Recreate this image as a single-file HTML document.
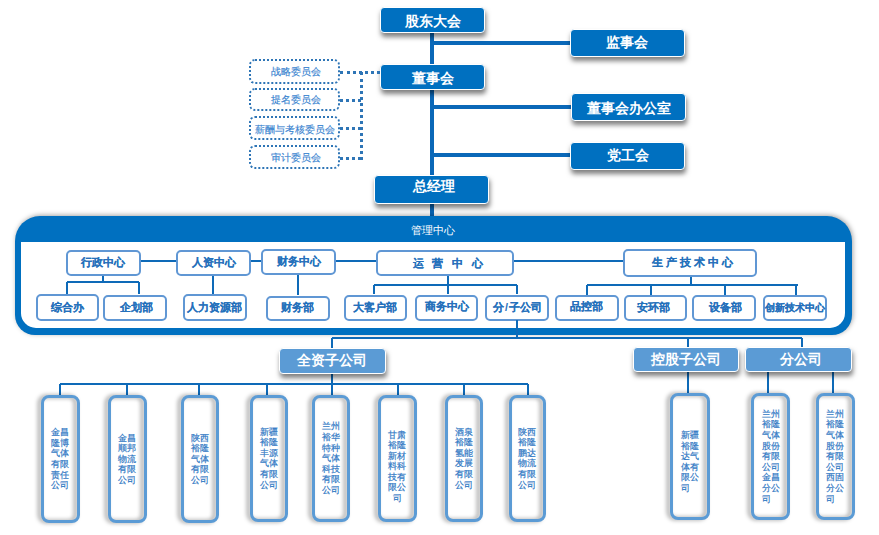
<!DOCTYPE html><html><head><meta charset="utf-8"><style>
html,body{margin:0;padding:0;background:#fff;width:879px;height:535px;overflow:hidden}
body{position:relative;font-family:"Liberation Sans",sans-serif}
div{position:absolute;box-sizing:border-box}
.db{color:#fff;font-weight:bold;text-align:center;border:1.5px solid #fff;border-radius:4px;box-shadow:1px 4px 5px rgba(0,0,0,0.5);white-space:nowrap}
.ln{}
.cb{border:2.5px dotted #2e75b6;border-radius:6px;color:#3a84d0;-webkit-text-stroke:0.15px #3a84d0;font-size:10px;padding-left:2px;text-align:center;white-space:nowrap;background:#fff}
.pb{border:2px solid #6097d4;border-radius:5px;background:#fff;color:#2470bb;font-weight:bold;-webkit-text-stroke:0.1px #2470bb;text-align:center;white-space:nowrap}
.kb{border:3px solid #5b9bd5;border-radius:8px;filter:drop-shadow(-2.5px 0.5px 2px rgba(0,0,0,0.4))}
.kt{color:#3078c4;font-size:9.2px;line-height:10.6px;text-align:center;-webkit-text-stroke:0.2px #3078c4}
</style></head><body>

<div class="ln" style="left:430.3px;top:32px;width:4px;height:184px;background:#0a68b8"></div>
<div class="ln" style="left:432.3px;top:40.75px;width:138.7px;height:4.5px;background:#0a68b8"></div>
<div class="ln" style="left:432.3px;top:104.65px;width:138.7px;height:4.5px;background:#0a68b8"></div>
<div class="ln" style="left:432.3px;top:152.75px;width:138.7px;height:4.5px;background:#0a68b8"></div>
<div class="db" style="left:380px;top:7px;width:105px;height:26px;background:#0070c0;font-size:13.5px;line-height:27.5px;letter-spacing:0px;padding-left:0px;padding-right:0px">股东大会</div>
<div class="db" style="left:380px;top:64px;width:105px;height:26px;background:#0070c0;font-size:13.5px;line-height:27.5px;letter-spacing:0px;padding-left:0px;padding-right:0px">董事会</div>
<div class="db" style="left:374px;top:175px;width:115px;height:29px;background:#0070c0;font-size:13.5px;line-height:22.5px;letter-spacing:0px;padding-left:5.0px;padding-right:0px">总经理</div>
<div class="db" style="left:570px;top:28.5px;width:115px;height:28.0px;background:#0070c0;font-size:13.5px;line-height:25.1px;letter-spacing:0px;padding-left:0px;padding-right:1.0px">监事会</div>
<div class="db" style="left:571px;top:93px;width:115px;height:28px;background:#0070c0;font-size:13.5px;line-height:29.5px;letter-spacing:0px;padding-left:0px;padding-right:0px">董事会办公室</div>
<div class="db" style="left:570px;top:141.5px;width:115px;height:28.0px;background:#0070c0;font-size:13.5px;line-height:25.5px;letter-spacing:0px;padding-left:0px;padding-right:0px">党工会</div>
<div class="ln" style="left:340px;top:71.0px;width:40px;height:0;border-top:3px dotted #2e75b6"></div>
<div class="ln" style="left:359.8px;top:72px;width:0;height:88px;border-left:3px dotted #2e75b6"></div>
<div class="ln" style="left:340px;top:98.5px;width:21px;height:0;border-top:3px dotted #2e75b6"></div>
<div class="ln" style="left:340px;top:126.5px;width:21px;height:0;border-top:3px dotted #2e75b6"></div>
<div class="ln" style="left:340px;top:156.5px;width:21px;height:0;border-top:3px dotted #2e75b6"></div>
<div class="cb" style="left:249px;top:59px;width:91px;height:25px;line-height:22.6px;font-size:10px;padding-left:2px">战略委员会</div>
<div class="cb" style="left:249px;top:88px;width:91px;height:23px;line-height:20.6px;font-size:10px;padding-left:2px">提名委员会</div>
<div class="cb" style="left:249px;top:116px;width:91px;height:24px;line-height:23.4px;font-size:9.7px;padding-left:0px">薪酬与考核委员会</div>
<div class="cb" style="left:249px;top:145px;width:91px;height:24px;line-height:21.6px;font-size:10px;padding-left:2px">审计委员会</div>
<div style="left:15px;top:215.5px;width:837px;height:119px;background:#0070c0;border-radius:25px 25px 20px 20px;box-shadow:1px -1px 5px rgba(0,0,0,0.35)"></div>
<div style="left:21px;top:242.3px;width:824px;height:86px;background:#fff;border-radius:0 0 15px 15px"></div>
<div style="left:383px;top:223px;width:100px;text-align:center;color:#fff;font-size:11px;line-height:14px">管理中心</div>
<div class="ln" style="left:140px;top:260.0px;width:37px;height:2px;background:#0e6ab8"></div>
<div class="ln" style="left:250px;top:260.0px;width:11px;height:2px;background:#0e6ab8"></div>
<div class="ln" style="left:335px;top:260.0px;width:42px;height:2px;background:#0e6ab8"></div>
<div class="ln" style="left:513px;top:260.0px;width:110px;height:2px;background:#0e6ab8"></div>
<div class="ln" style="left:102.0px;top:275px;width:2px;height:7px;background:#0e6ab8"></div>
<div class="ln" style="left:67px;top:281.0px;width:72px;height:2px;background:#0e6ab8"></div>
<div class="ln" style="left:66.0px;top:282px;width:2px;height:12px;background:#0e6ab8"></div>
<div class="ln" style="left:138.0px;top:282px;width:2px;height:12px;background:#0e6ab8"></div>
<div class="ln" style="left:212.0px;top:275px;width:2px;height:19px;background:#0e6ab8"></div>
<div class="ln" style="left:297.0px;top:275px;width:2px;height:20px;background:#0e6ab8"></div>
<div class="ln" style="left:447.0px;top:275px;width:2px;height:19px;background:#0e6ab8"></div>
<div class="ln" style="left:374px;top:284.0px;width:143px;height:2px;background:#0e6ab8"></div>
<div class="ln" style="left:373.0px;top:285px;width:2px;height:9px;background:#0e6ab8"></div>
<div class="ln" style="left:516.0px;top:285px;width:2px;height:9px;background:#0e6ab8"></div>
<div class="ln" style="left:690.0px;top:276px;width:2px;height:8.5px;background:#0e6ab8"></div>
<div class="ln" style="left:587px;top:283.5px;width:210.5px;height:2px;background:#0e6ab8"></div>
<div class="ln" style="left:586.2px;top:284.5px;width:2px;height:10.0px;background:#0e6ab8"></div>
<div class="ln" style="left:650.4px;top:284.5px;width:2px;height:10.0px;background:#0e6ab8"></div>
<div class="ln" style="left:723.6px;top:284.5px;width:2px;height:10.0px;background:#0e6ab8"></div>
<div class="ln" style="left:795.3px;top:284.5px;width:2px;height:10.0px;background:#0e6ab8"></div>
<div class="pb" style="left:66px;top:249.5px;width:75px;height:26.0px;line-height:21.0px;letter-spacing:0px;padding-left:0px;padding-right:2px;font-size:10.5px">行政中心</div>
<div class="pb" style="left:176px;top:249.5px;width:75px;height:26.5px;line-height:21.5px;letter-spacing:0px;padding-left:0px;padding-right:0px;font-size:10.5px">人资中心</div>
<div class="pb" style="left:261px;top:249px;width:75px;height:26px;line-height:20px;letter-spacing:0px;padding-left:0px;padding-right:0px;font-size:10.5px">财务中心</div>
<div class="pb" style="left:376px;top:249.5px;width:137.5px;height:26.0px;line-height:22.0px;letter-spacing:8.8px;padding-left:14.8px;padding-right:0px;font-size:10.5px">运营中心</div>
<div class="pb" style="left:622.5px;top:249px;width:134.5px;height:27.5px;line-height:23.5px;letter-spacing:3px;padding-left:9px;padding-right:0px;font-size:10.5px">生产技术中心</div>
<div class="pb" style="left:36px;top:294px;width:63px;height:27px;line-height:22px;letter-spacing:0px;padding-left:0px;padding-right:0px;font-size:10.5px">综合办</div>
<div class="pb" style="left:103px;top:294.5px;width:63.5px;height:26.5px;line-height:21.5px;letter-spacing:0px;padding-left:3.0px;padding-right:0px;font-size:10.5px">企划部</div>
<div class="pb" style="left:182.5px;top:293.5px;width:64.0px;height:27.5px;line-height:22.5px;letter-spacing:0px;padding-left:0px;padding-right:1.0px;font-size:10.6px">人力资源部</div>
<div class="pb" style="left:266px;top:295.5px;width:63.5px;height:25.5px;line-height:19.5px;letter-spacing:0px;padding-left:0px;padding-right:0px;font-size:10.5px">财务部</div>
<div class="pb" style="left:343.5px;top:294.5px;width:63.0px;height:26.5px;line-height:21.5px;letter-spacing:0px;padding-left:0px;padding-right:0px;font-size:10.5px">大客户部</div>
<div class="pb" style="left:414.5px;top:294.5px;width:63.0px;height:26.5px;line-height:19.5px;letter-spacing:0px;padding-left:2px;padding-right:0px;font-size:10.5px">商务中心</div>
<div class="pb" style="left:485px;top:295px;width:64px;height:26px;line-height:21px;letter-spacing:0px;padding-left:1.0px;padding-right:0px;font-size:10.5px">分<span style="margin:0 0.8px">/</span>子公司</div>
<div class="pb" style="left:555px;top:294.5px;width:63.5px;height:26.5px;line-height:19.5px;letter-spacing:0px;padding-left:0px;padding-right:0px;font-size:10.5px">品控部</div>
<div class="pb" style="left:623.5px;top:294.5px;width:63.0px;height:26.5px;line-height:21.5px;letter-spacing:0px;padding-left:0px;padding-right:4px;font-size:10.5px">安环部</div>
<div class="pb" style="left:692px;top:294.5px;width:64px;height:26.5px;line-height:21.5px;letter-spacing:0px;padding-left:2px;padding-right:0px;font-size:10.5px">设备部</div>
<div class="pb" style="left:763px;top:294.5px;width:63.5px;height:26.5px;line-height:21.5px;letter-spacing:0px;padding-left:0px;padding-right:5.0px;font-size:10.3px">创新技术中心</div>
<div class="ln" style="left:516.0px;top:320px;width:2px;height:17px;background:#0e6ab8"></div>
<div class="ln" style="left:331.7px;top:336.8px;width:470.3px;height:2px;background:#0e6ab8"></div>
<div class="ln" style="left:330.7px;top:337.8px;width:2px;height:10.199999999999989px;background:#0e6ab8"></div>
<div class="ln" style="left:687.0px;top:337.8px;width:2px;height:10.199999999999989px;background:#0e6ab8"></div>
<div class="ln" style="left:801.0px;top:337.8px;width:2px;height:10.199999999999989px;background:#0e6ab8"></div>
<div class="ln" style="left:330.7px;top:372px;width:2px;height:11.600000000000023px;background:#0e6ab8"></div>
<div class="ln" style="left:60px;top:382.6px;width:468px;height:2px;background:#0e6ab8"></div>
<div class="ln" style="left:59.0px;top:383.6px;width:2px;height:12.399999999999977px;background:#0e6ab8"></div>
<div class="ln" style="left:125.7px;top:383.6px;width:2px;height:12.399999999999977px;background:#0e6ab8"></div>
<div class="ln" style="left:198.0px;top:383.6px;width:2px;height:12.399999999999977px;background:#0e6ab8"></div>
<div class="ln" style="left:266.0px;top:383.6px;width:2px;height:12.399999999999977px;background:#0e6ab8"></div>
<div class="ln" style="left:330.7px;top:383.6px;width:2px;height:12.399999999999977px;background:#0e6ab8"></div>
<div class="ln" style="left:396.5px;top:383.6px;width:2px;height:12.399999999999977px;background:#0e6ab8"></div>
<div class="ln" style="left:462.5px;top:383.6px;width:2px;height:12.399999999999977px;background:#0e6ab8"></div>
<div class="ln" style="left:527.0px;top:383.6px;width:2px;height:12.399999999999977px;background:#0e6ab8"></div>
<div class="ln" style="left:687.0px;top:372px;width:2px;height:22px;background:#0e6ab8"></div>
<div class="ln" style="left:767.0px;top:372px;width:2px;height:22px;background:#0e6ab8"></div>
<div class="ln" style="left:832.0px;top:372px;width:2px;height:22px;background:#0e6ab8"></div>
<div class="db" style="left:279px;top:347.5px;width:106.5px;height:26.0px;background:#5b9bd5;font-size:14px;line-height:22.5px;letter-spacing:0px;padding-left:0px;padding-right:0px">全资子公司</div>
<div class="db" style="left:633px;top:346.5px;width:106px;height:25.5px;background:#5b9bd5;font-size:14px;line-height:22.0px;letter-spacing:0px;padding-left:0px;padding-right:0px">控股子公司</div>
<div class="db" style="left:745px;top:346.5px;width:107px;height:25.5px;background:#5b9bd5;font-size:14px;line-height:22.0px;letter-spacing:0px;padding-left:5.0px;padding-right:0px">分公司</div>
<div class="kb" style="left:41px;top:395px;width:38.5px;height:128px"></div>
<div class="kt" style="left:41px;top:427.2px;width:38.5px">金昌<br>隆博<br>气体<br>有限<br>责任<br>公司</div>
<div class="kb" style="left:107.5px;top:395px;width:39.0px;height:128px"></div>
<div class="kt" style="left:107.5px;top:432.5px;width:39.0px">金昌<br>顺邦<br>物流<br>有限<br>公司</div>
<div class="kb" style="left:180.5px;top:395px;width:38.5px;height:128px"></div>
<div class="kt" style="left:180.5px;top:432.5px;width:38.5px">陕西<br>裕隆<br>气体<br>有限<br>公司</div>
<div class="kb" style="left:250px;top:395px;width:38px;height:127px"></div>
<div class="kt" style="left:250px;top:426.7px;width:38px">新疆<br>裕隆<br>丰源<br>气体<br>有限<br>公司</div>
<div class="kb" style="left:312px;top:395px;width:38px;height:127px"></div>
<div class="kt" style="left:312px;top:421.4px;width:38px">兰州<br>裕华<br>特种<br>气体<br>科技<br>有限<br>公司</div>
<div class="kb" style="left:377.5px;top:395px;width:39.0px;height:127px"></div>
<div class="kt" style="left:377.5px;top:429.5px;width:39.0px">甘肃<br>裕隆<br>新材<br>料科<br>技有<br>限公<br>司</div>
<div class="kb" style="left:445px;top:395px;width:37.5px;height:127px"></div>
<div class="kt" style="left:445px;top:426.7px;width:37.5px">酒泉<br>裕隆<br>氢能<br>发展<br>有限<br>公司</div>
<div class="kb" style="left:508.5px;top:395px;width:37.5px;height:127px"></div>
<div class="kt" style="left:508.5px;top:426.7px;width:37.5px">陕西<br>裕隆<br>鹏达<br>物流<br>有限<br>公司</div>
<div class="kb" style="left:670px;top:393px;width:40px;height:127px"></div>
<div class="kt" style="left:670px;top:430px;width:40px"><span style="display:inline-block;text-align:left">新疆<br>裕隆<br>达气<br>体有<br>限公<br>司</span></div>
<div class="kb" style="left:751px;top:393px;width:39px;height:127px"></div>
<div class="kt" style="left:751px;top:408.8px;width:39px"><span style="display:inline-block;text-align:left">兰州<br>裕隆<br>气体<br>股份<br>有限<br>公司<br>金昌<br>分公<br>司</span></div>
<div class="kb" style="left:815.5px;top:393px;width:39.0px;height:127px"></div>
<div class="kt" style="left:815.5px;top:408.8px;width:39.0px"><span style="display:inline-block;text-align:left">兰州<br>裕隆<br>气体<br>股份<br>有限<br>公司<br>西固<br>分公<br>司</span></div>
</body></html>
